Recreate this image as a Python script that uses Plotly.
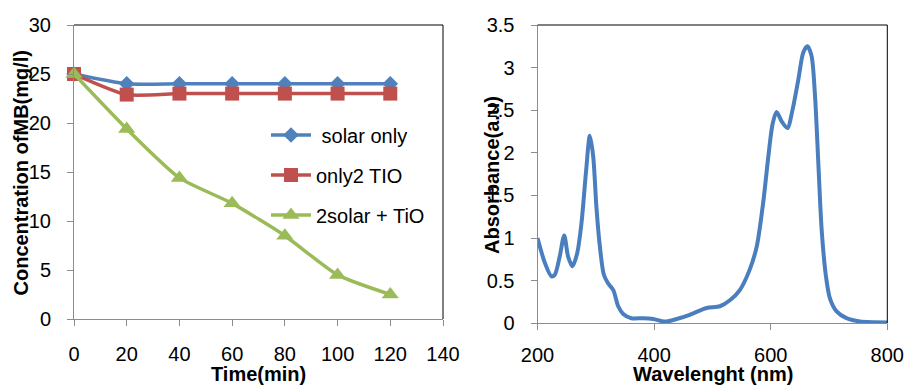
import plotly.graph_objects as go

# ---- Left chart data ----
time_min = [0, 20, 40, 60, 80, 100, 120]
solar_only = [25, 24, 24, 24, 24, 24, 24]
only_tio2 = [25, 22.9, 23, 23, 23, 23, 23]
solar_tio2 = [25, 19.4, 14.4, 11.8, 8.5, 4.5, 2.5]
left_names = [" solar only", "only2 TIO", "2solar + TiO"]

# ---- Right chart data (absorbance spectrum) ----
wavelength = [200, 212.6, 224, 229.7, 238, 245.8, 252.6, 260, 268, 275.5, 283, 289.8,
              295.5, 301, 307, 313.8, 321, 330, 338.4, 347, 361, 381, 398.5, 418.5,
              438.6, 461, 490, 513, 530, 547, 564, 576, 587, 596, 603, 610, 618.8,
              628.5, 637.6, 647.4, 656, 663, 670, 676, 681.7, 687.4, 694.8, 701.7,
              713, 730, 753, 800]
absorbance = [1.0, 0.71, 0.55, 0.57, 0.78, 1.03, 0.78, 0.67, 0.82, 1.18, 1.76, 2.2,
              1.96, 1.37, 0.9, 0.57, 0.47, 0.39, 0.2, 0.11, 0.06, 0.06, 0.05, 0.02,
              0.05, 0.1, 0.18, 0.2, 0.27, 0.39, 0.63, 0.9, 1.41, 1.96, 2.33, 2.48, 2.37,
              2.29, 2.51, 2.86, 3.18, 3.25, 3.14, 2.67, 1.88, 1.1, 0.55, 0.29,
              0.14, 0.06, 0.02, 0.01]

W, H = 907, 385
FONT = "Liberation Sans"
BLUE, RED, GREEN = "#4F81BD", "#C0504D", "#9BBB59"

fig = go.Figure()

series = [
    (solar_only, BLUE, "diamond", 12, "legend"),
    (only_tio2, RED, "square", 14, "legend2"),
    (solar_tio2, GREEN, "triangle-up", 15, "legend3"),
]
for (vals, col, sym, sz, lg), name in zip(series, left_names):
    fig.add_trace(go.Scatter(
        x=time_min, y=vals, name=name, mode="lines+markers",
        line=dict(color=col, width=3.5, shape="spline", smoothing=0.6),
        marker=dict(symbol=sym, size=sz, color=col),
        cliponaxis=False, legend=lg, xaxis="x", yaxis="y"))

fig.add_trace(go.Scatter(
    x=wavelength, y=absorbance, mode="lines", showlegend=False,
    line=dict(color="#4A7EBF", width=4, shape="spline", smoothing=0.8),
    xaxis="x2", yaxis="y2"))

def px_x(p):
    return p / W

def px_y(p):
    return 1 - p / H

tickfont = dict(family=FONT, size=20, color="#000")
axcommon = dict(showgrid=False, zeroline=False, showline=True, linecolor="#8c8c8c",
                linewidth=1, ticks="outside", ticklen=6, tickcolor="#8c8c8c",
                tickfont=tickfont, automargin=False)

fig.update_layout(
    width=W, height=H, margin=dict(l=0, r=0, t=0, b=0),
    paper_bgcolor="white", plot_bgcolor="white",
    xaxis=dict(domain=[px_x(74), px_x(443)], range=[0, 140], tickvals=[0, 20, 40, 60, 80, 100, 120, 140],
               anchor="y", ticklabelstandoff=11, **axcommon),
    yaxis=dict(domain=[px_y(319), px_y(25)], range=[0, 30], tickvals=[0, 5, 10, 15, 20, 25, 30],
               anchor="x", ticklabelstandoff=12, **axcommon),
    xaxis2=dict(domain=[px_x(537.5), px_x(887.3)], range=[200, 800], tickvals=[200, 400, 600, 800],
                anchor="y2", ticklabelstandoff=8, **axcommon),
    yaxis2=dict(domain=[px_y(323.3), px_y(25)], range=[0, 3.5], tickvals=[0, 0.5, 1, 1.5, 2, 2.5, 3, 3.5],
                anchor="x2", ticklabelstandoff=12, **axcommon),
    showlegend=True,
)

legfont = dict(family=FONT, size=20, color="#000")
for key, yy in [("legend", 135), ("legend2", 175), ("legend3", 215)]:
    fig.update_layout({key: dict(x=px_x(266), y=px_y(yy), xanchor="left", yanchor="middle",
                                 bgcolor="rgba(0,0,0,0)", font=legfont, itemwidth=40)})

# plot-area border (top and right edges)
for xr, yr in [("x domain", "y domain"), ("x2 domain", "y2 domain")]:
    fig.add_shape(type="line", xref=xr, yref=yr, x0=0, x1=1, y0=1, y1=1,
                  line=dict(color="#000", width=1))
    fig.add_shape(type="line", xref=xr, yref=yr, x0=1, x1=1, y0=0, y1=1,
                  line=dict(color="#000", width=1))

titlefont = dict(family=FONT, size=20, color="#000")
annots = [
    ("<b>Time(min)</b>", 258, 374, 0),
    ("<b>Wavelenght (nm)</b>", 713, 374, 0),
    ("<b>Concentration ofMB(mg/l)</b>", 20, 172.5, -90),
    ("<b>Absorbance(a.u)</b>", 492, 175, -90),
]
for txt, ax_, ay_, ang in annots:
    fig.add_annotation(text=txt, xref="paper", yref="paper", x=px_x(ax_), y=px_y(ay_),
                       xanchor="center", yanchor="middle", showarrow=False,
                       textangle=ang, font=titlefont)

fig.write_html("out.html")
